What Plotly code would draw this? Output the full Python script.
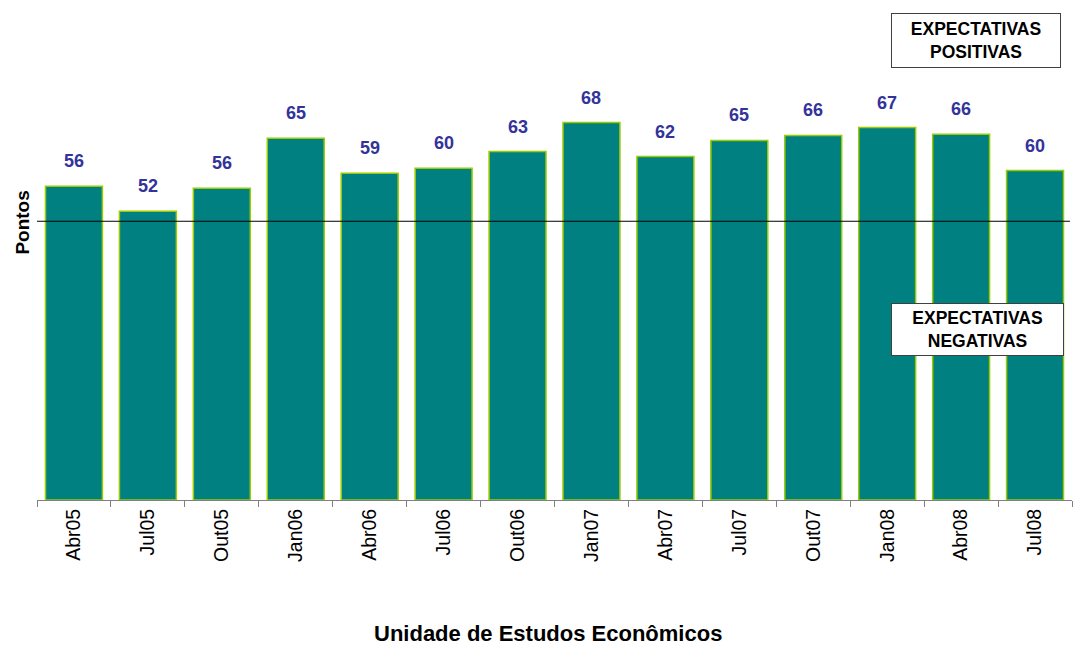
import plotly.graph_objects as go

categories = ["Abr05", "Jul05", "Out05", "Jan06", "Abr06", "Jul06", "Out06",
              "Jan07", "Abr07", "Jul07", "Out07", "Jan08", "Abr08", "Jul08"]
values = [56.3, 51.8, 55.9, 64.9, 58.6, 59.5, 62.5, 67.7, 61.6, 64.5, 65.4, 66.8, 65.6, 59.1]
labels = ["56", "52", "56", "65", "59", "60", "63", "68", "62", "65", "66", "67", "66", "60"]
threshold = 50

FONT = "Liberation Sans, Arial, sans-serif"

fig = go.Figure()
fig.add_trace(go.Bar(
    x=categories, y=values,
    marker=dict(color="#008080", line=dict(color="#99CC00", width=1.5)),
    width=0.77, hoverinfo="x+y",
))
for c, v, t in zip(categories, values, labels):
    fig.add_annotation(x=c, y=v, text="<b>%s</b>" % t, showarrow=False,
                       yanchor="bottom", yshift=13,
                       font=dict(family=FONT, size=18, color="#333399"))

fig.add_shape(type="line", xref="paper", yref="y", x0=0, x1=0.998, y0=threshold, y1=threshold,
              line=dict(color="black", width=1))

fig.update_layout(
    width=1075, height=646,
    margin=dict(l=37, r=3, t=54, b=146),
    paper_bgcolor="white", plot_bgcolor="white",
    showlegend=False,
    font=dict(family=FONT, color="black"),
)
fig.update_xaxes(
    tickangle=-90, tickfont=dict(size=19.5, color="black"), showline=True, linecolor="#808080",
    ticks="outside", tickson="boundaries", ticklen=6, tickcolor="#808080",
    showgrid=False,
)
fig.update_yaxes(range=[0, 80], showticklabels=False, showgrid=False, zeroline=False,
                 showline=False, ticks="")

fig.add_annotation(text="<b>Pontos</b>", xref="paper", yref="paper", x=-0.0135, y=0.622,
                   textangle=-90, showarrow=False, font=dict(size=19, color="black"),
                   xanchor="center", yanchor="middle")
fig.add_annotation(text="<b>Unidade de Estudos Econômicos</b>", xref="paper", yref="paper",
                   x=0.494, y=-0.299, showarrow=False, font=dict(size=22, color="black"),
                   xanchor="center", yanchor="middle")
fig.add_annotation(text="<b>EXPECTATIVAS<br>POSITIVAS</b>", xref="paper", yref="paper",
                   x=0.907, y=1.030, showarrow=False, font=dict(size=17.5, color="black"),
                   bgcolor="white", bordercolor="#404040", borderwidth=1,
                   width=166, height=51, xanchor="center", yanchor="middle")
fig.add_annotation(text="<b>EXPECTATIVAS<br>NEGATIVAS</b>", xref="paper", yref="paper",
                   x=0.9087, y=0.382, showarrow=False, font=dict(size=17.5, color="black"),
                   bgcolor="white", bordercolor="#404040", borderwidth=1,
                   width=169, height=49, xanchor="center", yanchor="middle")

fig.write_html("out.html", config={"displayModeBar": False},
               post_script="document.body.style.margin='0';")
